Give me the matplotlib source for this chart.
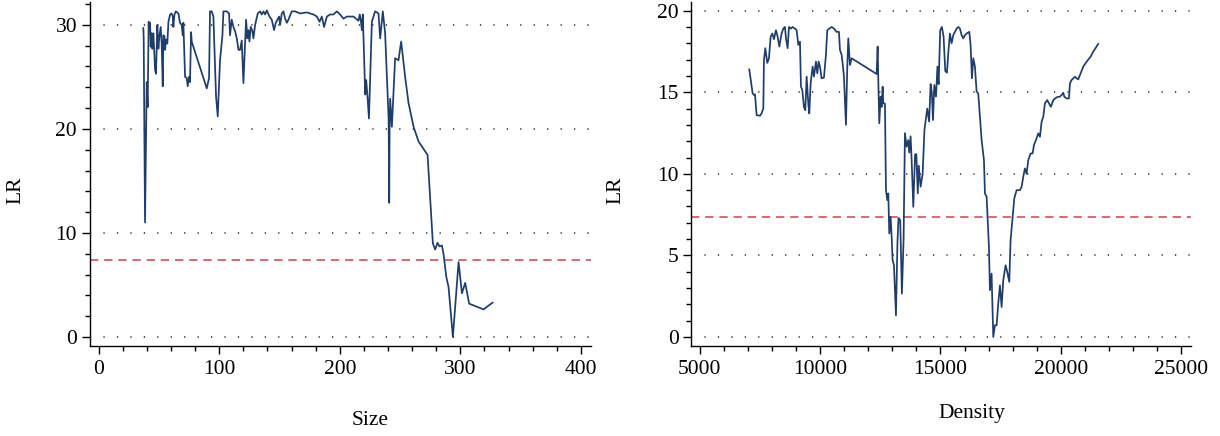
import matplotlib.pyplot as plt
from matplotlib.ticker import MultipleLocator

# -------------------------------
# 1. Data
# -------------------------------
size = [37.1, 37.4, 38.5, 39.9, 40.7, 41.5, 42.7, 43.2, 44.0, 44.6, 45.4, 46.0, 46.8, 47.6,
        48.7, 49.6, 50.4, 51.5, 52.3, 53.2, 53.7, 54.6, 55.1, 56.0, 57.0, 57.9, 59.3, 60.6,
        61.5, 62.0, 62.9, 64.0, 66.2, 67.5, 68.9, 69.8, 70.3, 71.7, 73.1, 73.9, 75.0, 75.8,
        76.7, 77.2, 89.7, 91.6, 92.4, 93.8, 95.2, 97.4, 98.8, 100.7, 102.7, 103.5, 106.3,
        108.2, 109.0, 110.4, 111.8, 113.2, 114.6, 116.0, 117.3, 118.7, 120.1, 122.3, 123.4,
        124.3, 125.1, 126.2, 127.6, 128.4, 129.8, 132.0, 133.9, 135.3, 136.7, 138.1, 139.5,
        141.7, 143.6, 145.5, 146.9, 148.3, 149.7, 150.5, 151.9, 153.3, 154.7, 156.1, 157.4,
        160.2, 163.0, 167.1, 172.7, 178.2, 181.0, 183.2, 185.1, 187.0, 189.3, 192.0, 194.8,
        197.5, 200.3, 203.1, 205.8, 211.4, 215.5, 216.6, 217.5, 218.3, 219.1, 221.1, 221.9,
        223.0, 224.2, 226.6, 229.3, 232.1, 233.5, 235.7, 237.6, 240.5, 241.0, 241.3, 241.8,
        243.2, 245.9, 248.7, 250.9, 254.2, 257.0, 261.2, 265.3, 272.8, 275.0, 277.2, 279.1,
        281.1, 282.7, 284.7, 286.0, 288.3, 290.2, 293.8, 298.5, 301.3, 304.0, 307.3, 319.2,
        326.7]
lr_size = [29.7, 28.7, 11.0, 24.5, 22.1, 30.3, 30.2, 27.9, 29.2, 27.7, 29.2, 27.9, 25.7, 25.3,
           30.0, 27.7, 28.9, 29.8, 28.2, 24.1, 29.0, 28.9, 27.6, 28.6, 28.2, 30.3, 31.0, 31.1,
           30.8, 29.8, 31.0, 31.3, 31.1, 30.2, 30.0, 29.0, 30.2, 25.0, 24.9, 24.1, 25.0, 24.5,
           29.3, 28.4, 23.9, 24.9, 31.3, 31.3, 30.8, 23.1, 21.2, 26.6, 29.0, 31.3, 31.3,
           31.1, 29.0, 30.5, 29.8, 29.4, 28.7, 27.6, 27.6, 28.5, 24.4, 30.5, 28.7,
           29.5, 28.4, 29.8, 29.4, 28.7, 30.0, 31.1, 31.3, 31.0, 31.3, 31.0, 31.4,
           30.8, 30.5, 29.5, 30.2, 30.5, 30.8, 30.0, 31.1, 31.3, 30.6, 30.2, 30.5,
           31.3, 31.3, 31.1, 31.2, 31.0, 30.8, 30.3, 30.8, 29.8, 30.8, 31.0, 31.0,
           31.3, 31.0, 30.6, 30.8, 30.8, 30.4, 31.0, 30.4, 29.5, 31.0, 23.3, 24.7,
           23.1, 21.0, 30.3, 31.3, 31.1, 28.7, 31.3, 29.2, 21.0, 12.9, 20.0, 22.9,
           20.2, 26.8, 26.6, 28.4, 25.0, 22.5, 20.2, 18.8, 17.5, 13.2, 9.0, 8.4,
           9.05, 8.7, 8.8, 8.0, 5.8, 4.8, 0.0, 7.2, 4.2, 5.2, 3.2, 2.65,
           3.3]

density = [7064, 7134, 7203, 7258, 7300, 7369, 7507, 7576, 7646, 7673, 7729, 7812, 7881, 7950,
           8019, 8088, 8171, 8241, 8310, 8407, 8476, 8545, 8587, 8656, 8711, 8794, 8863, 8960,
           9029, 9099, 9168, 9209, 9265, 9334, 9389, 9445, 9514, 9555, 9611, 9694, 9749, 9832,
           9887, 9943, 9998, 10067, 10164, 10247, 10302, 10385, 10482, 10579, 10690, 10787,
           10828, 10897, 10939, 10994, 11077, 11133, 11174, 11243, 11313, 12350, 12392, 12420,
           12461, 12517, 12558, 12600, 12627, 12696, 12738, 12793, 12835, 12876, 12931, 12973,
           13014, 13070, 13153, 13215, 13260, 13330, 13400, 13470, 13526, 13595, 13664, 13706,
           13761, 13803, 13872, 13948, 14000, 14059, 14100, 14176, 14260, 14336, 14420, 14453,
           14530, 14592, 14640, 14690, 14745, 14815, 14875, 14925, 14990, 15060, 15131, 15200,
           15270, 15325, 15394, 15463, 15533, 15602, 15671, 15740, 15809, 15878, 15948, 16017,
           16086, 16197, 16252, 16307, 16363, 16432, 16501, 16570, 16640, 16709, 16806, 16847,
           16917, 16986, 17013, 17054, 17123, 17193, 17262, 17331, 17400, 17470, 17539, 17608,
           17705, 17788, 17857, 17912, 17995, 18064, 18161, 18300, 18369, 18438, 18507, 18576,
           18646, 18743, 18826, 18881, 18964, 19061, 19130, 19199, 19268, 19338, 19434, 19504,
           19587, 19684, 19822, 19960, 20029, 20099, 20140, 20237, 20334, 20375, 20444, 20583,
           20652, 20721, 20818, 20929, 21067, 21233, 21344, 21551]
lr_density = [16.4, 15.65, 14.93, 14.83, 14.87, 13.6, 13.56, 13.71, 14.0, 16.98, 17.7, 16.8, 17.08, 18.4,
              18.6, 18.25, 18.8, 18.4, 17.8, 18.6, 18.9, 19.0, 18.3, 17.7, 19.0, 18.9, 19.0, 18.9,
              18.8, 17.9, 18.1, 15.34, 15.14, 14.1, 13.9, 15.96, 14.32, 13.7, 15.55, 16.57, 15.96, 16.88,
              16.16, 16.88, 16.57, 15.85, 15.9, 17.3, 18.8, 18.9, 19.0, 18.9, 18.7, 18.7,
              17.6, 17.3, 16.77, 15.96, 13.0, 16.57, 18.3, 16.67, 17.08, 16.12, 17.8, 15.75,
              13.1, 14.73, 14.1, 15.34, 14.32, 14.3, 9.0, 8.4, 8.8, 6.34, 7.37, 6.2,
              4.71, 4.4, 1.33, 5.8, 7.3, 7.16, 2.66, 6.0, 12.5, 11.66, 12.07, 11.3,
              12.3, 10.9, 7.98, 11.2, 11.2, 8.8, 10.5, 9.21, 10.0, 12.7, 13.6, 14.0,
              13.2, 15.5, 15.0, 13.3, 15.45, 14.73, 16.57, 15.5, 18.8, 19.0, 18.4, 16.3,
              16.2, 17.4, 18.6, 18.0, 18.5, 18.7, 18.9, 19.0, 18.9, 18.5, 18.3, 18.5,
              18.6, 18.7, 17.9, 15.85, 17.08, 16.57, 15.04, 14.93, 13.5, 12.07, 10.84, 8.8,
              8.6, 6.34, 5.5, 2.87, 3.89, 0.0, 0.72, 0.72, 2.05, 3.17, 1.84, 3.48,
              4.4, 3.89, 3.38, 5.93, 7.36, 8.49, 9.0, 9.0, 9.2, 9.82, 10.33, 10.0,
              10.84, 11.25, 11.25, 11.76, 12.07, 12.48, 12.27, 13.19, 13.5, 14.32, 14.52, 14.32,
              14.11, 14.52, 14.69, 14.73, 14.83, 14.97, 14.73, 14.62, 14.62, 15.54, 15.75, 15.95,
              15.85, 15.79, 16.16, 16.57, 16.87, 17.18, 17.49, 17.96]

threshold = 7.38

# -------------------------------
# 2. Style
# -------------------------------
plt.rcParams['font.family'] = ['Liberation Serif', 'DejaVu Serif']
plt.rcParams['font.size'] = 15.5
line_color = '#1f3d6b'
red = '#d0525c'
grid_style = (0, (0.8, 8))

fig = plt.figure(figsize=(12.2, 4.36), dpi=100)
ax1 = fig.add_axes([0.0734, 0.2064, 0.4107, 0.789])
ax2 = fig.add_axes([0.5667, 0.2064, 0.4095, 0.789])

panels = [
    (ax1, size, lr_size, 'Size', (-7.5, 408), (-0.87, 32.2), 100, 20, 10, 2),
    (ax2, density, lr_density, 'Density', (4660, 25400), (-0.55, 20.53), 5000, 1000, 5, 1),
]

# -------------------------------
# 3. Plot
# -------------------------------
for ax, x, y, xlabel, xlim, ylim, xmaj, xmin, ymaj, ymin in panels:
    ax.plot(x, y, color=line_color, lw=1.25, zorder=3)
    ax.axhline(threshold, color=red, lw=1.2, ls=(0, (5, 3.5)), zorder=2)

    ax.set_xlim(*xlim)
    ax.set_ylim(*ylim)
    ax.xaxis.set_major_locator(MultipleLocator(xmaj))
    ax.xaxis.set_minor_locator(MultipleLocator(xmin))
    ax.yaxis.set_major_locator(MultipleLocator(ymaj))
    ax.yaxis.set_minor_locator(MultipleLocator(ymin))
    ax.grid(axis='y', which='major', color='#222222', lw=1.1, ls=grid_style)

    for side in ['top', 'right']:
        ax.spines[side].set_visible(False)
    for side in ['left', 'bottom']:
        ax.spines[side].set_linewidth(1.0)
    ax.tick_params(which='major', direction='out', length=6, width=1.0, pad=3)
    ax.tick_params(which='minor', direction='out', length=3.5, width=1.0)
    ax.tick_params(axis='x', which='major', pad=4)

    ax.set_xlabel(xlabel)
    ax.set_ylabel('LR')

ax1.xaxis.set_label_coords(0.56, -0.19)
ax2.xaxis.set_label_coords(0.562, -0.17)
ax1.yaxis.set_label_coords(-0.127, 0.453)
ax2.yaxis.set_label_coords(-0.131, 0.453)

plt.savefig('out.png', dpi=100)
